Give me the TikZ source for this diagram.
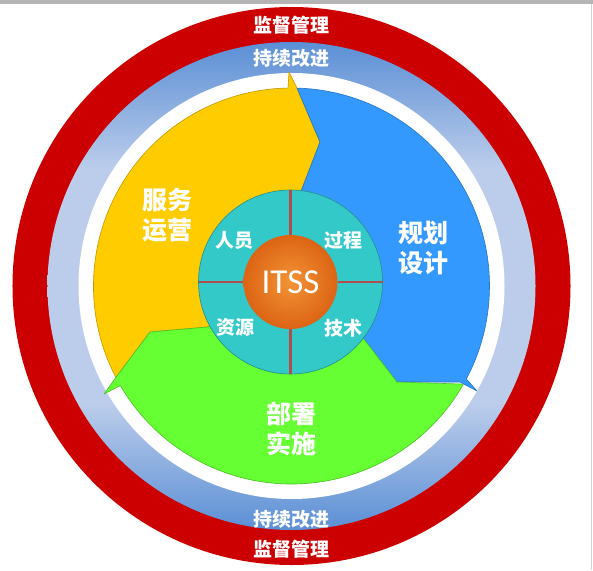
\documentclass[tikz,border=0pt]{standalone}
\usepackage{fontspec}
\newfontfamily\cjk{Noto Sans CJK SC}
\newfontfamily\latin{Carlito}
\usepackage{tikz}
\definecolor{ringred}{HTML}{CC0000}
\definecolor{ringdark}{HTML}{5B8FD5}
\definecolor{ringlight}{HTML}{BCCDEB}
\definecolor{opsyellow}{HTML}{FFCC00}
\definecolor{planblue}{HTML}{3399FF}
\definecolor{deploygreen}{HTML}{66FF33}
\definecolor{hubteal}{HTML}{33C9C9}
\definecolor{balllight}{HTML}{F39436}
\definecolor{balldark}{HTML}{DC6414}
\definecolor{dividerred}{HTML}{B04E4E}
\definecolor{framegray}{HTML}{B4B4B4}
\pgfdeclareverticalshading{ringshade}{100bp}{color(0bp)=(ringdark);
	color(25bp)=(ringdark); color(38bp)=(ringlight); color(62bp)=(ringlight);
	color(75bp)=(ringdark); color(100bp)=(ringdark)}
\tikzstyle{ringlabel} = [text=white, font=\cjk\bfseries\fontsize{19}{19}\selectfont]
\tikzstyle{sectorlabel} = [text=white, align=center,
                 font=\cjk\bfseries\fontsize{25}{30}\selectfont]
\tikzstyle{hublabel} = [text=white, font=\cjk\bfseries\fontsize{19}{19}\selectfont]
\tikzstyle{sector} = [line width=0.6pt, line join=round]
\tikzstyle{divider} = [line width=2.5pt, draw=dividerred]

\begin{document}
\begin{tikzpicture}[x=1pt,y=1pt]

\useasboundingbox (-291.5,-284) rectangle (301.5,286);
    	%frame
\fill [framegray] (-291.5,282) rectangle (301.5,286);
\draw [framegray!60, line width=0.8pt] (299.8,-284) -- (299.8,282);

\coordinate (hub) at (-1,4);

    	%rings
\fill [ringred] (0,0) circle (279);
\shade [shading=ringshade] (0,0) circle (244);
\fill [white] (0,0) circle (213);

    	%sectors
\path [sector, fill=opsyellow, draw=opsyellow!75!black] (hub) -- (-84,-41)
	-- (-141.5,-46) -- (207.5:198) arc[start angle=207.5, end angle=91, radius=198]
	-- (-2.5,214) -- (5.5,198) -- (28.5,144) -- (10,96) -- cycle;
\path [sector, fill=planblue, draw=planblue!75!black] (hub) -- (10,96)
	-- (28.5,144) -- (88.4:198) arc[start angle=88.4, end angle=-28, radius=198]
	-- (185.5,-105) -- (168.5,-96) -- (105.5,-96) -- (71.5,-52) -- cycle;
\path [sector, fill=deploygreen, draw=deploygreen!75!black] (hub) -- (71.5,-52)
	-- (105.5,-96) -- (-29.7:198) arc[start angle=-29.7, end angle=-149.8, radius=198]
	-- (-187.5,-108) -- (-175.6,-91.4) -- (-141.5,-46) -- (-84,-41) -- cycle;

    	%hub
\fill [hubteal, draw=hubteal!70!black, line width=0.6pt] (hub) circle (92);
\foreach \a in {0,90,180,270}
	\draw [divider, shift={(hub)}] (\a:47) -- (\a:92);
\shade [inner color=balllight, outer color=balldark] (hub) circle (47);

\node [text=white, font=\latin\fontsize{35}{35}\selectfont] at (hub) (itss) {ITSS};

\foreach \x/\y/\name/\label in {-57.5/46/people/人员, 51.5/46/process/过程,
		-56.5/-41/resource/资源, 51.5/-42/tech/技术}
	\node [hublabel] at (\x,\y) (\name) {\label};

\node [sectorlabel] at (-123.5,71) (ops) {服务\\运营};
\node [sectorlabel] at (131.5,38) (plan) {规划\\设计};
\node [sectorlabel] at (0,-143) (deploy) {部署\\实施};

\node [ringlabel] at (0,261) (supervisetop) {监督管理};
\node [ringlabel] at (0,228) (improvetop) {持续改进};
\node [ringlabel] at (0,-233) (improvebottom) {持续改进};
\node [ringlabel] at (0,-263) (supervisebottom) {监督管理};

\end{tikzpicture}
\end{document}
